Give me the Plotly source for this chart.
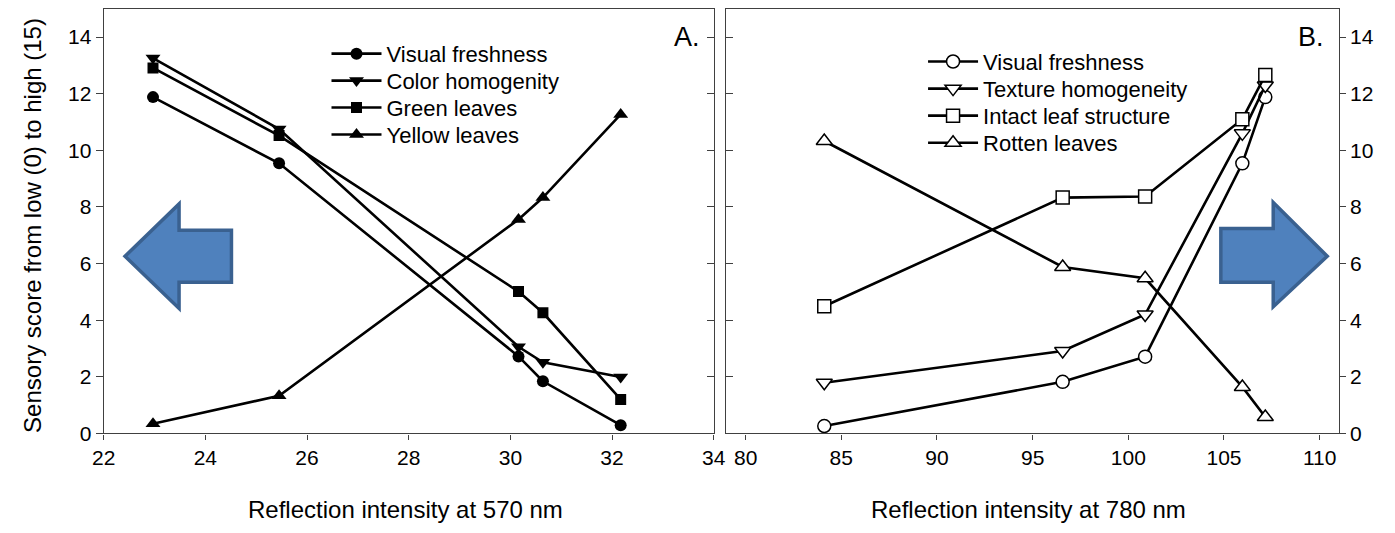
import plotly.graph_objects as go

# ---------------- data ----------------
x570 = [22.97, 25.45, 30.16, 30.64, 32.17]
a_visual_freshness = [11.88, 9.54, 2.72, 1.84, 0.29]
a_color_homogenity = [13.26, 10.75, 3.06, 2.51, 1.99]
a_green_leaves = [12.91, 10.52, 5.01, 4.26, 1.20]
a_yellow_leaves = [0.34, 1.33, 7.56, 8.33, 11.27]

x780 = [84.11, 96.57, 100.88, 105.96, 107.16]
b_visual_freshness = [0.26, 1.82, 2.71, 9.54, 11.88]
b_texture_homogeneity = [1.79, 2.91, 4.20, 10.60, 12.29]
b_intact_leaf = [4.49, 8.33, 8.37, 11.10, 12.66]
b_rotten_leaves = [10.33, 5.88, 5.48, 1.64, 0.58]

x_ticks_a = [22, 24, 26, 28, 30, 32, 34]
x_ticks_b = [80, 85, 90, 95, 100, 105, 110]
y_ticks = [0, 2, 4, 6, 8, 10, 12, 14]

W, H = 1395, 533
FONT = "Liberation Sans, Arial, sans-serif"
AX = "#404040"

def px(x):
    return x / W

def py(y):
    return 1 - y / H

fig = go.Figure()

LW = 2.6
series_a = [
    ("Visual freshness", a_visual_freshness, "circle", 12),
    ("Color homogenity", a_color_homogenity, "triangle-down", 13),
    ("Green leaves", a_green_leaves, "square", 11),
    ("Yellow leaves", a_yellow_leaves, "triangle-up", 13),
]
series_b = [
    ("Visual freshness", b_visual_freshness, "circle", 13),
    ("Texture homogeneity", b_texture_homogeneity, "triangle-down", 14),
    ("Intact leaf structure", b_intact_leaf, "square", 13),
    ("Rotten leaves", b_rotten_leaves, "triangle-up", 14),
]

legend_layout = {}
rows_a = [55, 82.5, 110, 137.5]
rows_b = [63, 90.7, 118.3, 146]

for i, (name, ys, sym, sz) in enumerate(series_a):
    lg = "legend" if i == 0 else f"legend{i + 1}"
    fig.add_trace(go.Scatter(
        x=x570, y=ys, name=name, mode="lines+markers",
        line=dict(color="black", width=LW),
        marker=dict(symbol=sym, size=sz, color="black"),
        xaxis="x", yaxis="y", legend=lg))
    legend_layout[lg] = dict(x=px(320), y=py(rows_a[i]), xanchor="left", yanchor="middle",
                             font=dict(family=FONT, size=22, color="black"),
                             bgcolor="rgba(0,0,0,0)", itemwidth=50)

for i, (name, ys, sym, sz) in enumerate(series_b):
    lg = f"legend{i + 5}"
    fig.add_trace(go.Scatter(
        x=x780, y=ys, name=name, mode="lines+markers",
        line=dict(color="black", width=LW),
        marker=dict(symbol=sym, size=sz, color="white",
                    line=dict(color="black", width=1.5)),
        xaxis="x2", yaxis="y2", legend=lg))
    legend_layout[lg] = dict(x=px(927), y=py(rows_b[i]), xanchor="left", yanchor="middle",
                             font=dict(family=FONT, size=22, color="black"),
                             bgcolor="rgba(0,0,0,0)", itemwidth=50)

# empty traces so overlay tick axes are drawn
fig.add_trace(go.Scatter(x=[], y=[], xaxis="x", yaxis="y3", showlegend=False, hoverinfo="skip"))
fig.add_trace(go.Scatter(x=[], y=[], xaxis="x2", yaxis="y4", showlegend=False, hoverinfo="skip"))

ydom = [py(442.5), py(9)]
common = dict(showgrid=False, zeroline=False, showline=True, linecolor=AX, linewidth=1.3,
              ticks="outside", tickcolor=AX, tickwidth=1.3,
              tickfont=dict(family=FONT, size=21, color="black"))

fig.update_layout(
    width=W, height=H, margin=dict(l=0, r=0, t=0, b=0),
    paper_bgcolor="white", plot_bgcolor="white",
    font=dict(family=FONT, color="black"),
    xaxis=dict(domain=[px(93.3), px(714)], range=[22, 34], tickvals=x_ticks_a,
               ticklen=5, mirror=True, anchor="y", **common),
    yaxis=dict(domain=ydom, range=[0, 15], tickvals=y_ticks, ticklen=7,
               mirror=True, anchor="x", **common),
    yaxis3=dict(overlaying="y", side="right", anchor="x", range=[0, 15], tickvals=y_ticks,
                ticks="inside", ticklen=7, tickcolor=AX, tickwidth=1.3,
                showticklabels=False, showline=False, showgrid=False, zeroline=False),
    xaxis2=dict(domain=[px(727), px(1350)], range=[79, 111], tickvals=x_ticks_b,
                ticklen=5, mirror=True, anchor="y2", **common),
    yaxis2=dict(domain=ydom, range=[0, 15], tickvals=y_ticks, ticklen=6, side="right",
                mirror=True, anchor="x2", **common),
    yaxis4=dict(overlaying="y2", side="left", anchor="x2", range=[0, 15], tickvals=y_ticks,
                ticks="inside", ticklen=7, tickcolor=AX, tickwidth=1.3,
                showticklabels=False, showline=False, showgrid=False, zeroline=False),
    showlegend=True,
    **legend_layout,
)

annotations = [
    dict(text="Reflection intensity at 570 nm", x=px(400), y=py(520), xref="paper", yref="paper",
         showarrow=False, xanchor="center", yanchor="middle", font=dict(family=FONT, size=24)),
    dict(text="Reflection intensity at 780 nm", x=px(1034), y=py(520), xref="paper", yref="paper",
         showarrow=False, xanchor="center", yanchor="middle", font=dict(family=FONT, size=24)),
    dict(text="Sensory score from low (0) to high (15)", x=px(21), y=py(230), xref="paper",
         yref="paper", showarrow=False, textangle=-90, xanchor="center", yanchor="middle",
         font=dict(family=FONT, size=24)),
    dict(text="A.", x=px(702), y=py(38), xref="paper", yref="paper", showarrow=False,
         xanchor="right", yanchor="middle", font=dict(family=FONT, size=27)),
    dict(text="B.", x=px(1337), y=py(38), xref="paper", yref="paper", showarrow=False,
         xanchor="right", yanchor="middle", font=dict(family=FONT, size=27)),
]
fig.update_layout(annotations=annotations)

def arrow_path(pts):
    return "M " + " L ".join(f"{px(x):.5f},{py(y):.5f}" for x, y in pts) + " Z"

left_arrow = [(115, 261.7), (170, 208.3), (170, 235), (223.3, 235), (223.3, 288.3),
              (170, 288.3), (170, 315)]
right_arrow = [(1338.3, 261.7), (1283.3, 206.7), (1283.3, 233.3), (1230, 233.3),
               (1230, 288.3), (1283.3, 288.3), (1283.3, 313.3)]
for pts in (left_arrow, right_arrow):
    fig.add_shape(type="path", path=arrow_path(pts), xref="paper", yref="paper",
                  fillcolor="#4F81BD", line=dict(color="#3A6190", width=3.5), layer="above")

fig.write_html("out.html")
